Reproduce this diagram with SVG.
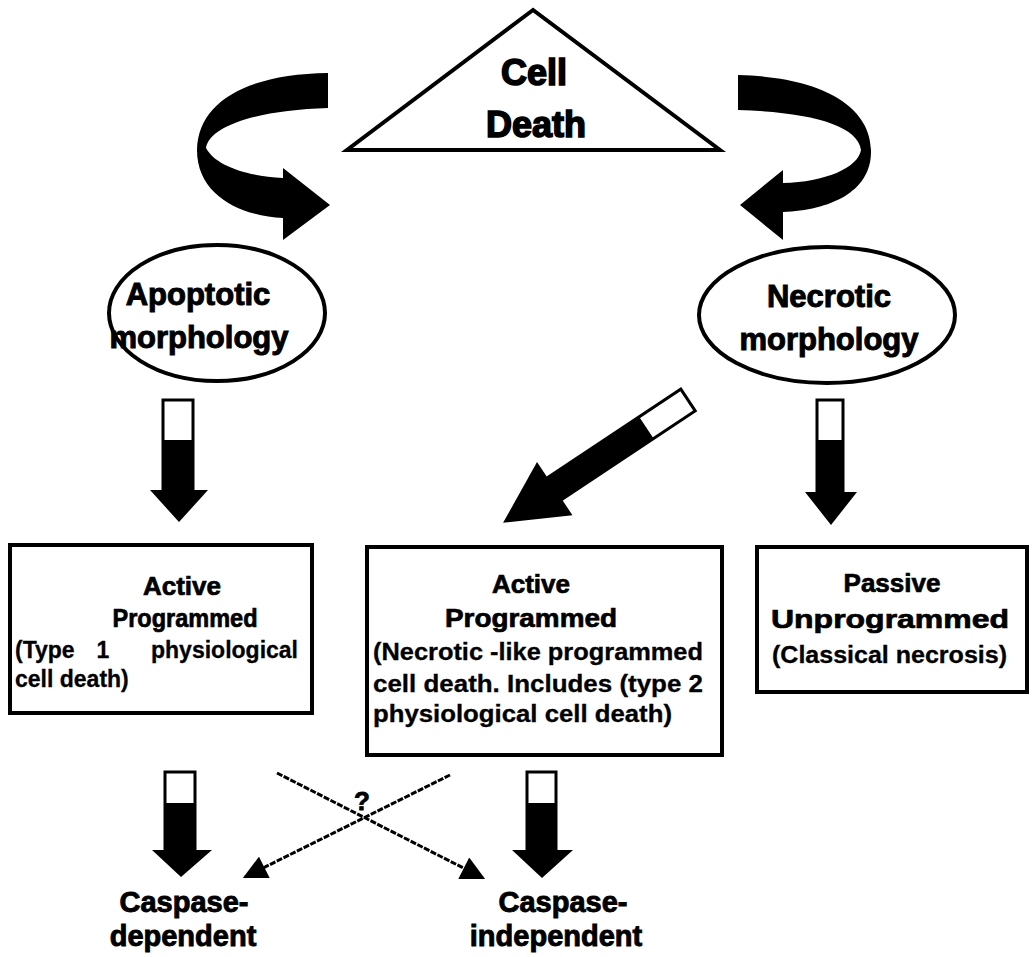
<svg xmlns="http://www.w3.org/2000/svg" width="1033" height="957" viewBox="0 0 1033 957">
<defs>
<style>
.bg{fill:#fff}
.ln{fill:none;stroke:#000;stroke-width:4}
.box{fill:#fff;stroke:#000;stroke-width:4}
.t{font-family:"Liberation Sans",Arial,sans-serif;font-weight:bold;fill:#000}
.big{font-size:36px;stroke:#000;stroke-width:1.6}
.ell{font-size:31px;stroke:#000;stroke-width:1}
.hd{font-size:26px;stroke:#000;stroke-width:0.7;text-anchor:middle}
.bd{font-size:23px;stroke:#000;stroke-width:0.3}
.cap{font-size:29px;stroke:#000;stroke-width:0.9;text-anchor:middle}
.blk{fill:#000}
.shaft{fill:#fff;stroke:#000;stroke-width:3}
.thin{stroke:#000;stroke-width:3;stroke-dasharray:6 1.5;fill:none}
</style>
<marker id="tri" viewBox="0 0 10 10" refX="9" refY="5" markerWidth="30" markerHeight="24" markerUnits="userSpaceOnUse" orient="auto">
<path d="M0,0 L10,5 L0,10 Z" fill="#000"/>
</marker>
</defs>
<rect class="bg" x="0" y="0" width="1033" height="957"/>

<g id="cell-death">
<polygon class="ln" points="533,10 347,150 720,150" stroke-linejoin="miter"/>
<text class="t big" x="534" y="85" text-anchor="middle">Cell</text>
<text class="t big" x="536" y="137" text-anchor="middle">Death</text>
</g>

<g id="apoptotic">
<ellipse class="ln" cx="217" cy="313" rx="108" ry="68"/>
<text class="t ell" x="198" y="305" text-anchor="middle">Apoptotic</text>
<text class="t ell" x="199" y="348" text-anchor="middle">morphology</text>
</g>

<g id="necrotic">
<ellipse class="ln" cx="827" cy="315" rx="128" ry="68"/>
<text class="t ell" x="829" y="307" text-anchor="middle" font-size="32">Necrotic</text>
<text class="t ell" x="829" y="350" text-anchor="middle" font-size="32">morphology</text>
</g>

<g id="box-active-type1">
<rect class="box" x="10" y="545" width="302" height="168"/>
<text class="t hd" x="182" y="595">Active</text>
<text class="t hd" x="185" y="627" textLength="145" lengthAdjust="spacingAndGlyphs">Programmed</text>
<text class="t bd" x="15" y="658">(Type</text>
<text class="t bd" x="103" y="658" text-anchor="middle">1</text>
<text class="t bd" x="298" y="658" text-anchor="end">physiological</text>
<text class="t bd" x="15" y="687">cell death)</text>
</g>

<g id="box-active-necrotic-like">
<rect class="box" x="367" y="547" width="355" height="208"/>
<text class="t hd" x="531" y="593">Active</text>
<text class="t hd" x="531" y="627" textLength="172" lengthAdjust="spacingAndGlyphs">Programmed</text>
<text class="t bd" x="373" y="660" textLength="330" lengthAdjust="spacingAndGlyphs">(Necrotic -like programmed</text>
<text class="t bd" x="373" y="692" textLength="330" lengthAdjust="spacingAndGlyphs">cell death. Includes (type 2</text>
<text class="t bd" x="373" y="722" textLength="299" lengthAdjust="spacingAndGlyphs">physiological cell death)</text>
</g>

<g id="box-passive">
<rect class="box" x="757" y="547" width="270" height="145"/>
<text class="t hd" x="892" y="592">Passive</text>
<text class="t hd" x="890" y="628" textLength="238" lengthAdjust="spacingAndGlyphs">Unprogrammed</text>
<text class="t bd" x="772" y="663" textLength="235" lengthAdjust="spacingAndGlyphs">(Classical necrosis)</text>
</g>

<g id="caspase-dependent">
<text class="t cap" x="184" y="912">Caspase-</text>
<text class="t cap" x="183" y="946">dependent</text>
</g>

<g id="caspase-independent">
<text class="t cap" x="563" y="912">Caspase-</text>
<text class="t cap" x="556" y="946">independent</text>
</g>

<g id="connectors">
<path class="blk" d="M328,73 C250,74 198,100 197,150 C197,195 240,216 283,218 L283,240 L330,205 L283,168 L283,178 C245,176 215,165 206,148 C210,125 260,110 328,108 Z"/>
<path class="blk" d="M738,75 C820,77 870,105 871,150 C872,192 830,210 783,212 L783,240 L740,205 L783,170 L783,183 C825,182 858,168 861,150 C858,125 810,112 738,110 Z"/>

<g id="arrow-apoptotic-down">
<rect class="shaft" x="163" y="400" width="30" height="92"/>
<rect class="blk" x="163" y="440" width="30" height="52"/>
<polygon class="blk" points="150,490 208,490 179,522"/>
</g>
<g id="arrow-necrotic-down">
<rect class="shaft" x="817" y="400" width="26" height="94"/>
<rect class="blk" x="817" y="440" width="26" height="54"/>
<polygon class="blk" points="805,492 857,492 831,525"/>
</g>
<g id="arrow-necrotic-diag" transform="translate(688,400) rotate(146.4)">
<rect class="shaft" x="0" y="-13" width="165" height="26"/>
<rect class="blk" x="50" y="-13" width="117" height="26"/>
<polygon class="blk" points="160,-32 222,0 160,32"/>
</g>
<g id="arrow-dep-down">
<rect class="shaft" x="165" y="772" width="30" height="80"/>
<rect class="blk" x="165" y="803" width="30" height="49"/>
<polygon class="blk" points="152,850 212,850 181,877"/>
</g>
<g id="arrow-indep-down">
<rect class="shaft" x="527" y="772" width="29" height="80"/>
<rect class="blk" x="527" y="803" width="29" height="49"/>
<polygon class="blk" points="512,850 573,850 542,878"/>
</g>
<line class="thin" x1="277" y1="773" x2="483" y2="878" marker-end="url(#tri)"/>
<line class="thin" x1="450" y1="775" x2="245" y2="877" marker-end="url(#tri)"/>
<text class="t" x="362" y="810" font-size="26" stroke="#000" stroke-width="0.8" text-anchor="middle">?</text>
</g>
</svg>
